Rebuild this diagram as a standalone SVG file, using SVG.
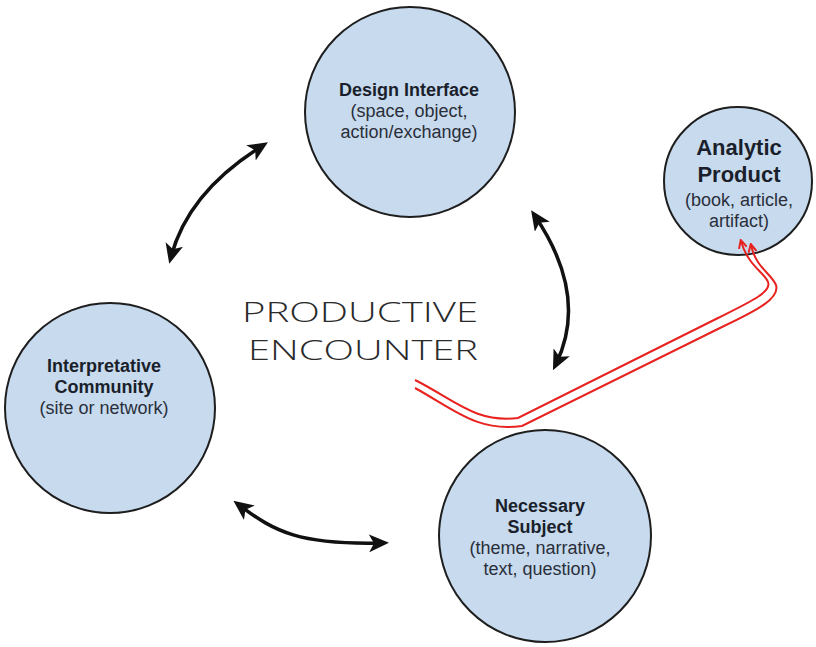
<svg xmlns="http://www.w3.org/2000/svg" width="816" height="647" viewBox="0 0 816 647">
<style>
.node{fill:#c7daee;stroke:#1e1e1e;stroke-width:2}
.b{font-family:"Liberation Sans",Arial,sans-serif;font-weight:bold;font-size:18px;fill:#1a1f2b;text-anchor:middle}
.r{font-family:"Liberation Sans",Arial,sans-serif;font-size:18px;fill:#2a2f3a;text-anchor:middle}
.big{font-family:"Liberation Sans",Arial,sans-serif;font-weight:bold;font-size:22px;fill:#1a1f2b;text-anchor:middle}
.title{font-family:"Open Sans","Lato",sans-serif;font-weight:300;font-size:28px;fill:#2a2a2a;text-anchor:middle}
.arr{fill:none;stroke:#111;stroke-width:3.5;stroke-linecap:round;marker-start:url(#ah);marker-end:url(#ah)}
.red{fill:none;stroke:#e8221f;stroke-width:2;marker-end:url(#rh)}
</style>
<defs>
<marker id="ah" markerUnits="userSpaceOnUse" viewBox="0 0 20 18" markerWidth="20" markerHeight="18" refX="13" refY="9" orient="auto-start-reverse">
<path d="M0,0 L20,9 L0,18 L5,9 z" fill="#111"/>
</marker>
<marker id="rh" markerUnits="userSpaceOnUse" viewBox="0 0 10 10" markerWidth="10" markerHeight="10" refX="8" refY="5" orient="auto">
<path d="M1,1 L9,5 L1,9" fill="none" stroke="#e8221f" stroke-width="2"/>
</marker>
</defs>
<rect width="816" height="647" fill="#ffffff"/>

<g id="design-interface">
<circle class="node" cx="410" cy="112" r="105"/>
<text class="b" x="409" y="96">Design Interface</text>
<text class="r" x="409" y="117">(space, object,</text>
<text class="r" x="409" y="138">action/exchange)</text>
</g>

<g id="analytic-product">
<circle class="node" cx="738" cy="181" r="74"/>
<text class="big" x="739" y="155">Analytic</text>
<text class="big" x="739" y="182">Product</text>
<text class="r" x="739" y="206">(book, article,</text>
<text class="r" x="739" y="227">artifact)</text>
</g>

<g id="interpretative-community">
<circle class="node" cx="110" cy="408" r="105"/>
<text class="b" x="104" y="372">Interpretative</text>
<text class="b" x="104" y="393">Community</text>
<text class="r" x="104" y="414">(site or network)</text>
</g>

<g id="necessary-subject">
<circle class="node" cx="545" cy="536" r="106"/>
<text class="b" x="540" y="512">Necessary</text>
<text class="b" x="540" y="533">Subject</text>
<text class="r" x="540" y="554">(theme, narrative,</text>
<text class="r" x="540" y="575">text, question)</text>
</g>

<g id="productive-encounter">
<text class="title" x="360" y="322" textLength="236" lengthAdjust="spacingAndGlyphs">PRODUCTIVE</text>
<text class="title" x="363" y="360" textLength="230" lengthAdjust="spacingAndGlyphs">ENCOUNTER</text>
</g>

<g id="connectors">
<path class="arr" d="M171,257 Q188,192 262,146"/>
<path class="arr" d="M535,216 Q589,296 556,364"/>
<path class="arr" d="M239,505 C275,532 300,545 382,543"/>
<path class="red" d="M415,380 C455,400 475,423 518,418 L718,318 C750,302 772,292 768,282 C764,272 748,266 741,241"/>
<path class="red" d="M415,388 C455,410 477,432 522,426 L724,326 C758,310 780,298 776,285 C771,273 756,268 751,245"/>
</g>
</svg>
